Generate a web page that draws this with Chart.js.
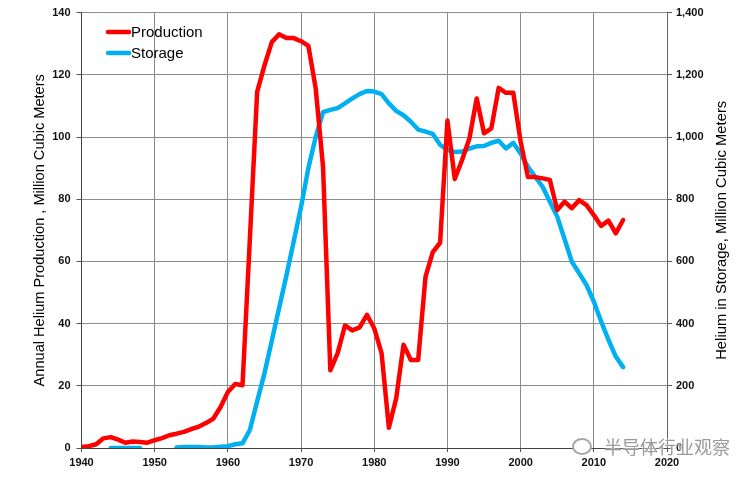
<!DOCTYPE html>
<html>
<head>
<meta charset="utf-8">
<script src="https://cdn.jsdelivr.net/npm/chart.js@4.4.1/dist/chart.umd.min.js"></script>
<style>
  body { margin: 0; background: #fff; }
  #wrap { position: relative; width: 755px; height: 479px; overflow: hidden; }
  #mark { position: absolute; left: 572px; top: 433px; font: 18px "Noto Sans CJK SC", sans-serif;
          color: #9a9a9a; text-shadow: 0 0 2px #fff, 0 0 2px #fff; white-space: nowrap; }
  #mark .ic { display: inline-block; width: 16px; height: 13px; border: 2px solid #a8a8a8;
              border-radius: 50%; margin-right: 12px; vertical-align: -1px; background: #fff; }
</style>
</head>
<body>
<div id="wrap">
  <canvas id="myChart" width="755" height="479"></canvas>
  <div id="mark"><span class="ic"></span>半导体行业观察</div>
</div>
<script>
// years 1940..2014
var years = [];
for (var yr = 1940; yr <= 2014; yr++) years.push(yr);

// annual helium production, million cubic meters (left axis)
var production = [
  0.3, 0.6, 1.2, 3.1, 3.5, 2.7, 1.7, 2.1, 1.9, 1.7,
  2.5, 3.2, 4.1, 4.6, 5.2, 6.1, 6.8, 8.0, 9.4, 13.2,
  18.0, 20.6, 20.2, 67, 114.5, 123, 130.5, 133, 131.8, 131.8,
  130.8, 129.3, 115.6, 90.5, 25, 30.5, 39.4, 37.8, 38.8, 42.8,
  38.5, 30.5, 6.5, 16, 33.2, 28.3, 28.3, 55, 63, 66,
  105.3, 86.5, 92.6, 99.5, 112.4, 101.2, 102.8, 115.8, 114.2, 114.2,
  98.5, 87.1, 87.1, 86.7, 86.2, 76.5, 79.2, 77.1, 79.7, 78.1,
  74.9, 71.4, 73.1, 69, 73.3
];

// helium in storage, million cubic meters (right axis)
var storage = [
  null, null, null, null, 0, 0, 0, 0, 0, null,
  null, null, null, 2, 3, 3, 3, 2, 2, 4,
  6, 12, 15, 58, 150, 240, 345, 450, 555, 665,
  776, 900, 1000, 1080, 1087, 1093, 1108, 1124, 1138, 1148,
  1146, 1138, 1108, 1084, 1070, 1049, 1024, 1017, 1010, 975,
  958, 952, 953, 963, 970, 971, 981, 988, 963, 981,
  947, 904, 872, 840, 792, 744, 672, 599, 562, 524,
  471, 407, 348, 294, 260
];

var seriesNames = ['Production', 'Storage'];
var seriesColors = ['#ff0000', '#00b0f0'];
var xTicks = [1940, 1950, 1960, 1970, 1980, 1990, 2000, 2010, 2020];

var font = '"Liberation Sans", Arial, sans-serif';
var gridColor = '#8c8c8c';

function pts(arr) {
  return years.map(function (y, i) { return { x: y, y: arr[i] }; });
}

// legend drawn inside the plot, top left
var legendInside = {
  id: 'legendInside',
  afterDatasetsDraw: function (chart) {
    var ctx = chart.ctx;
    ctx.save();
    ctx.font = '15px ' + font;
    ctx.textBaseline = 'middle';
    seriesNames.forEach(function (name, i) {
      var y = 32 + i * 21;
      ctx.strokeStyle = seriesColors[i];
      ctx.lineWidth = 4.5;
      ctx.lineCap = 'round';
      ctx.beginPath();
      ctx.moveTo(108, y);
      ctx.lineTo(129, y);
      ctx.stroke();
      ctx.fillStyle = '#000';
      ctx.fillText(name, 131, y + 1);
    });
    ctx.restore();
  }
};

// right axis title reads bottom to top like the left one
var rightTitle = {
  id: 'rightTitle',
  afterDraw: function (chart) {
    var ctx = chart.ctx;
    var a = chart.chartArea;
    ctx.save();
    ctx.translate(722, (a.top + a.bottom) / 2);
    ctx.rotate(-Math.PI / 2);
    ctx.font = '14.8px ' + font;
    ctx.fillStyle = '#000';
    ctx.textAlign = 'center';
    ctx.textBaseline = 'middle';
    ctx.fillText('Helium in Storage, Million Cubic Meters', 0, 0);
    ctx.restore();
  }
};

var ctx = document.getElementById('myChart').getContext('2d');
var chart = new Chart(ctx, {
  type: 'line',
  data: {
    datasets: [{
      label: seriesNames[0],
      data: pts(production),
      borderColor: seriesColors[0],
      backgroundColor: seriesColors[0],
      borderWidth: 4.5,
      pointRadius: 0,
      tension: 0,
      borderJoinStyle: 'round',
      borderCapStyle: 'round',
      yAxisID: 'y'
    }, {
      label: seriesNames[1],
      data: pts(storage),
      borderColor: seriesColors[1],
      backgroundColor: seriesColors[1],
      borderWidth: 4.5,
      pointRadius: 0,
      tension: 0,
      spanGaps: false,
      borderJoinStyle: 'round',
      borderCapStyle: 'round',
      yAxisID: 'y2'
    }]
  },
  options: {
    responsive: false,
    animation: false,
    layout: { padding: { top: 12, left: 0, right: 0, bottom: 0 } },
    plugins: {
      legend: { display: false },
      tooltip: { enabled: false }
    },
    scales: {
      x: {
        type: 'linear',
        min: 1940,
        max: 2020,
        afterBuildTicks: function (scale) {
          scale.ticks = xTicks.map(function (v) { return { value: v }; });
        },
        afterFit: function (scale) { scale.height = 31; },
        grid: { color: gridColor, tickLength: 4, tickColor: '#555' },
        border: { color: '#444' },
        ticks: {
          padding: 4,
          maxRotation: 0,
          color: '#111',
          font: { family: font, size: 11, weight: 'bold' },
          callback: function (v) { return String(v); }
        }
      },
      y: {
        position: 'left',
        min: 0,
        max: 140,
        afterFit: function (scale) { scale.width = 81.5; },
        grid: { color: gridColor, tickLength: 5, tickColor: '#555' },
        border: { color: '#444' },
        ticks: {
          stepSize: 20,
          padding: 6,
          color: '#111',
          font: { family: font, size: 11, weight: 'bold' }
        },
        title: {
          display: true,
          text: 'Annual Helium Production , Million Cubic Meters',
          color: '#000',
          font: { family: font, size: 14.6 },
          padding: { top: 31, bottom: 0 }
        }
      },
      y2: {
        position: 'right',
        min: 0,
        max: 1400,
        afterFit: function (scale) { scale.width = 88; },
        grid: { drawOnChartArea: false, tickLength: 5, tickColor: '#555' },
        border: { color: '#666' },
        ticks: {
          stepSize: 200,
          padding: 4,
          color: '#111',
          font: { family: font, size: 11, weight: 'bold' },
          callback: function (v) { return v.toLocaleString('en-US'); }
        }
      }
    }
  },
  plugins: [legendInside, rightTitle]
});
</script>
</body>
</html>
